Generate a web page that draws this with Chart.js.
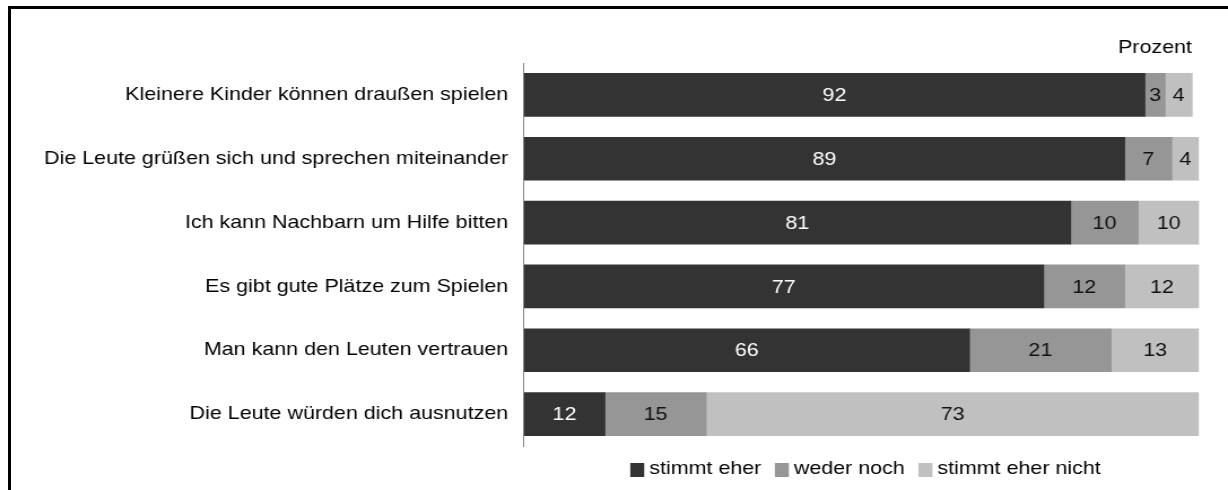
<!DOCTYPE html>
<html lang="de">
<head>
<meta charset="utf-8">
<title>Nachbarschaft</title>
<script src="https://cdn.jsdelivr.net/npm/chart.js@4.4.1/dist/chart.umd.min.js"></script>
<style>
  html, body { margin: 0; padding: 0; background: #fff; overflow: hidden; width: 1228px; height: 490px; }
  #stage { position: absolute; left: 0; top: 0; width: 1087px; height: 490px;
           transform-origin: 0 0; transform: scaleX(1.12971); }
  #frame { position: absolute; left: 8px; top: 6px; width: 1220px; height: 484px;
           border-top: 3px solid #000; border-left: 3px solid #000; box-sizing: border-box; }
</style>
</head>
<body>
<div id="stage"><canvas id="chart" width="1087" height="490"></canvas></div>
<div id="frame"></div>
<script>
// Statements about the neighbourhood, answers in percent
const categories = [
  'Kleinere Kinder können draußen spielen',
  'Die Leute grüßen sich und sprechen miteinander',
  'Ich kann Nachbarn um Hilfe bitten',
  'Es gibt gute Plätze zum Spielen',
  'Man kann den Leuten vertrauen',
  'Die Leute würden dich ausnutzen'
];
const seriesNames = ['stimmt eher', 'weder noch', 'stimmt eher nicht'];
const stimmtEher      = [92, 89, 81, 77, 66, 12];
const wederNoch       = [3, 7, 10, 12, 21, 15];
const stimmtEherNicht = [4, 4, 10, 12, 13, 73];
const unitLabel = 'Prozent';

// canvas is drawn narrower and widened horizontally on screen
const SX = 1228 / 1087;
const FONT = '"Liberation Sans", Arial, Helvetica, sans-serif';
const FS = 19;
const TEXT = '#000000';
const colors = ['#333333', '#969696', '#c0c0c0'];
const valueColors = ['#ffffff', '#111111', '#111111'];

Chart.defaults.font.family = FONT;
Chart.defaults.font.size = FS;
Chart.defaults.color = TEXT;

const barValues = {
  id: 'barValues',
  afterDatasetsDraw(chart) {
    const { ctx, chartArea: a } = chart;
    ctx.save();
    ctx.font = FS + 'px ' + FONT;
    ctx.textAlign = 'center';
    ctx.textBaseline = 'middle';
    chart.data.datasets.forEach((ds, di) => {
      const meta = chart.getDatasetMeta(di);
      meta.data.forEach((bar, i) => {
        const x0 = Math.max(Math.min(bar.base, bar.x), a.left);
        const x1 = Math.min(Math.max(bar.base, bar.x), a.right);
        ctx.fillStyle = valueColors[di];
        ctx.fillText(String(ds.data[i]), (x0 + x1) / 2, bar.y + 1);
      });
    });
    ctx.restore();
  }
};

const unitAndLegend = {
  id: 'unitAndLegend',
  afterDraw(chart) {
    const { ctx, chartArea: a } = chart;
    ctx.save();
    ctx.font = FS + 'px ' + FONT;
    ctx.fillStyle = TEXT;
    // unit caption above the plot, right aligned
    ctx.textAlign = 'right';
    ctx.textBaseline = 'alphabetic';
    ctx.fillText(unitLabel, a.right - 6.2, 53);

    // legend row under the plot
    const box = 14 / SX, boxH = 14, gap = 4.4, itemGap = 12;
    const items = chart.data.datasets.map(d => ({ text: d.label, color: d.backgroundColor, w: ctx.measureText(d.label).width }));
    const total = items.reduce((s, it) => s + box + gap + it.w, 0) + itemGap * (items.length - 1);
    let x = (a.left + a.right) / 2 - total / 2 + 4 / SX;
    ctx.textAlign = 'left';
    items.forEach(it => {
      ctx.fillStyle = it.color;
      ctx.fillRect(x, 463, box, boxH);
      ctx.fillStyle = TEXT;
      ctx.fillText(it.text, x + box + gap, 474);
      x += box + gap + it.w + itemGap;
    });
    ctx.restore();
  }
};

new Chart(document.getElementById('chart'), {
  type: 'bar',
  data: {
    labels: categories,
    datasets: [stimmtEher, wederNoch, stimmtEherNicht].map((vals, k) => ({
      label: seriesNames[k],
      data: vals,
      backgroundColor: colors[k],
      borderWidth: 0,
      barThickness: 43
    }))
  },
  options: {
    indexAxis: 'y',
    responsive: false,
    animation: false,
    layout: { padding: { left: 0, right: 29 / SX, top: 63, bottom: 44 } },
    scales: {
      x: { stacked: true, min: 0, max: 100, display: false },
      y: {
        stacked: true,
        grid: { display: false, drawTicks: false },
        border: { display: true, color: '#868686', width: 1 },
        ticks: { padding: 14, color: TEXT, font: { size: FS } },
        afterFit(scale) { scale.width = 524 / SX; }
      }
    },
    plugins: {
      legend: { display: false },
      tooltip: { enabled: false },
      title: { display: false }
    }
  },
  plugins: [barValues, unitAndLegend]
});
</script>
</body>
</html>
